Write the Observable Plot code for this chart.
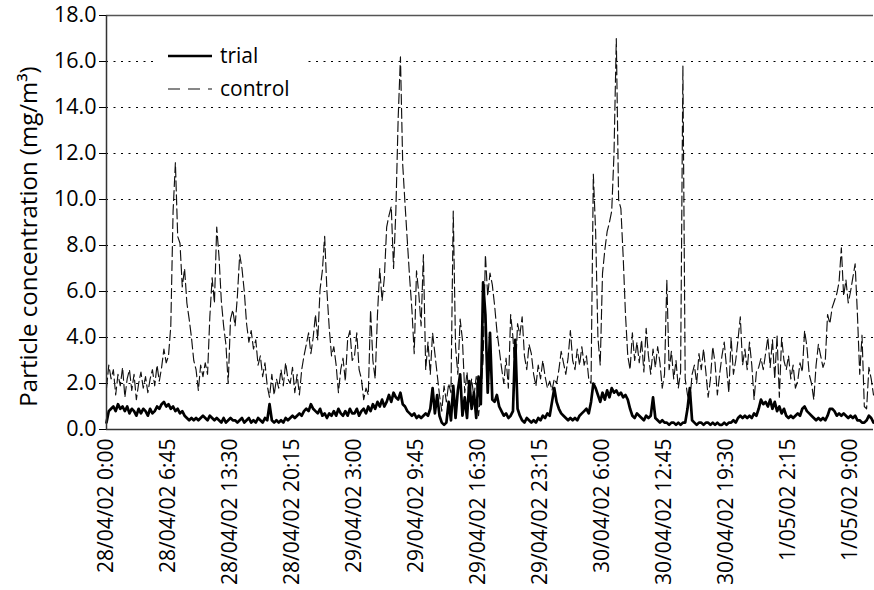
<!DOCTYPE html>
<html>
<head>
<meta charset="utf-8">
<script src="https://cdn.jsdelivr.net/npm/d3@7"></script>
<script src="https://cdn.jsdelivr.net/npm/@observablehq/plot@0.6"></script>
<style>
  html, body { margin: 0; padding: 0; background: #fff; }
  #chart { width: 874px; height: 590px; }
</style>
</head>
<body>
<div id="chart"></div>
<script>
// ---- data (15-minute readings starting 28/04/02 0:00) ----
const startTime = "2002-04-28T00:00:00Z";
const stepMinutes = 15;

const control = [
 1.8,2.8,2.2,2.6, 1.5,2.4,1.9,2.7, 1.4,2.2,2.6,1.7, 2.4,1.3,2.0,2.5,
 1.8,2.3,1.6,2.2, 2.6,1.9,2.8,2.1, 2.7,3.5,2.9,3.2, 4.5,9.5,11.6,8.4,
 8.1,6.2,7.0,5.5, 4.8,4.0,3.0,2.6, 1.7,2.8,2.3,2.9, 2.4,4.9,6.6,5.5,
 8.8,7.5,5.6,4.5, 3.7,2.0,4.8,5.2, 4.5,5.8,7.6,7.0, 6.0,4.6,3.8,4.3,
 3.5,3.9,2.8,3.2, 2.3,2.9,1.9,1.4, 2.4,1.5,2.2,1.8, 2.6,1.9,2.9,2.2,
 2.0,2.7,1.6,2.4, 1.5,2.6,3.2,3.7, 4.2,3.3,4.0,5.0, 3.9,6.1,6.9,8.4,
 6.0,4.4,3.2,3.6, 2.8,1.6,2.6,3.1, 2.1,3.9,4.3,3.0, 3.2,4.2,2.6,2.2,
 1.3,1.8,1.5,5.2, 3.0,2.2,5.0,7.0, 5.6,6.6,8.8,9.3, 9.7,7.0,9.5,13.5,
 16.2,11.5,9.8,8.2, 6.6,5.2,3.3,6.9, 5.9,4.5,7.6,2.6, 3.8,2.4,4.2,3.3,
 2.4,1.5,0.8,1.9, 1.2,2.0,1.6,9.5, 3.6,2.4,4.8,3.9, 1.6,2.5,1.2,2.2,
 1.4,2.3,0.6,1.6, 3.0,7.6,5.8,6.8, 6.3,5.4,4.3,3.5, 2.7,2.0,3.1,1.8,
 5.0,4.0,2.2,4.6, 4.1,4.9,3.2,2.6, 3.7,3.3,2.4,1.9, 2.8,2.2,3.0,2.3,
 1.8,2.1,1.7,2.2, 2.0,2.6,3.4,2.9, 2.4,3.1,4.3,3.0, 2.6,3.5,2.8,3.6,
 2.8,3.2,2.2,2.0, 11.1,8.6,4.0,2.8, 6.8,7.8,8.6,9.0, 9.5,12.0,17.0,10.0,
 9.6,7.5,5.0,3.2, 2.6,4.2,3.0,3.8, 2.9,3.9,2.5,4.4, 3.2,2.4,3.5,2.7,
 3.6,2.9,1.8,2.4, 6.5,2.6,3.4,2.2, 3.0,1.8,2.5,15.8, 2.2,1.5,1.2,2.4,
 2.8,2.0,3.3,2.6, 3.5,2.5,1.4,2.2, 3.6,2.9,1.5,2.4, 3.2,3.8,2.7,1.6,
 4.0,2.4,3.0,3.9, 4.9,2.8,3.5,2.6, 3.8,2.8,1.3,2.5, 2.7,3.1,2.6,3.3,
 4.0,2.7,3.9,2.2, 4.1,1.4,4.0,3.0, 2.6,3.2,2.2,2.8, 1.8,2.1,2.9,2.5,
 4.3,3.6,2.4,2.0, 1.3,2.8,3.7,3.2, 2.7,3.0,5.0,4.6, 5.3,5.6,5.9,6.4,
 7.9,5.8,6.5,5.5, 6.0,6.6,7.2,5.0, 2.4,4.1,1.0,0.9, 2.7,2.2,1.5
];

const trial = [
 0.3,0.8,0.9,1.0, 0.8,1.1,0.9,1.0, 0.8,1.0,0.7,0.9, 0.8,0.6,0.9,0.7,
 0.9,0.8,0.6,0.9, 0.7,0.8,1.0,0.9, 1.1,1.2,1.0,1.1, 0.9,1.0,0.8,0.9,
 0.7,0.8,0.6,0.5, 0.4,0.5,0.4,0.5, 0.4,0.5,0.6,0.5, 0.4,0.6,0.5,0.4,
 0.5,0.4,0.3,0.5, 0.3,0.4,0.5,0.4, 0.4,0.3,0.4,0.5, 0.3,0.4,0.5,0.3,
 0.4,0.3,0.5,0.4, 0.3,0.5,0.4,1.1, 0.4,0.3,0.4,0.3, 0.4,0.3,0.5,0.4,
 0.5,0.6,0.5,0.6, 0.7,0.6,0.8,0.9, 0.8,1.1,0.9,0.8, 0.7,0.9,0.6,0.7,
 0.5,0.7,0.6,0.8, 0.6,0.9,0.7,0.6, 0.8,0.6,0.9,0.7, 0.7,0.9,0.6,0.8,
 0.9,0.7,1.0,0.8, 1.1,0.9,1.2,1.0, 1.3,1.0,1.2,1.5, 1.2,1.6,1.4,1.3,
 1.6,1.1,1.0,0.8, 0.7,0.6,0.7,0.5, 0.6,0.5,0.6,0.7, 0.6,0.9,1.8,0.7,
 1.5,0.6,0.3,0.2, 0.3,1.2,0.4,1.9, 0.5,1.7,2.4,0.6, 1.4,0.5,2.1,0.9,
 1.6,0.5,2.3,1.1, 6.4,5.0,1.6,4.2, 1.3,1.2,1.5,1.0, 0.8,0.6,0.7,0.5,
 0.6,0.8,3.9,0.9, 0.6,0.4,0.3,0.5, 0.4,0.3,0.4,0.3, 0.5,0.4,0.6,0.5,
 0.7,0.6,1.2,1.8, 1.2,0.9,0.7,0.6, 0.5,0.4,0.5,0.4, 0.5,0.4,0.6,0.7,
 0.8,0.9,0.7,1.2, 2.0,1.8,1.5,1.2, 1.6,1.3,1.7,1.4, 1.8,1.6,1.7,1.5,
 1.6,1.4,1.5,1.3, 0.9,0.6,0.5,0.7, 0.6,0.5,0.4,0.6, 0.5,0.6,1.4,0.5,
 0.4,0.3,0.4,0.3, 0.3,0.2,0.3,0.3, 0.2,0.3,0.2,0.3, 0.3,0.9,1.8,0.4,
 0.3,0.2,0.3,0.3, 0.2,0.3,0.3,0.2, 0.3,0.2,0.3,0.2, 0.2,0.3,0.2,0.3,
 0.3,0.4,0.3,0.5, 0.6,0.5,0.6,0.5, 0.6,0.5,0.7,0.6, 0.9,1.3,1.1,1.2,
 1.0,1.3,0.9,1.2, 0.8,1.0,0.7,0.9, 0.6,0.5,0.6,0.5, 0.6,0.7,0.6,0.9,
 1.0,0.8,0.7,0.6, 0.5,0.4,0.5,0.4, 0.5,0.4,0.6,0.9, 0.9,0.8,0.6,0.7,
 0.6,0.7,0.6,0.5, 0.6,0.5,0.6,0.4, 0.4,0.3,0.3,0.4, 0.6,0.5,0.3
];

const tickLabels = [
 "28/04/02 0:00", "28/04/02 6:45", "28/04/02 13:30", "28/04/02 20:15",
 "29/04/02 3:00", "29/04/02 9:45", "29/04/02 16:30", "29/04/02 23:15",
 "30/04/02 6:00", "30/04/02 12:45", "30/04/02 19:30", "1/05/02 2:15",
 "1/05/02 9:00"
];
const yTicks = [0, 2, 4, 6, 8, 10, 12, 14, 16, 18];
const seriesNames = ["trial", "control"];
const yTitle = "Particle concentration (mg/m\u00b3)";

// ---- build tables ----
const t0 = new Date(startTime).getTime();
const timeAt = i => new Date(t0 + i * stepMinutes * 60000);
const controlData = control.map((v, i) => ({time: timeAt(i), value: v}));
const trialData = trial.map((v, i) => ({time: timeAt(i), value: v}));

function parseLabel(s) {
  const [dpart, tpart] = s.split(" ");
  const [dd, mm, yy] = dpart.split("/").map(Number);
  const [h, m] = tpart.split(":").map(Number);
  return new Date(Date.UTC(2000 + yy, mm - 1, dd, h, m));
}
const tickDates = tickLabels.map(parseLabel);
const labelByTime = new Map(tickDates.map((d, i) => [d.getTime(), tickLabels[i]]));

const domainX = [controlData[0].time, controlData[controlData.length - 1].time];
const FONT = "'Open Sans', sans-serif";

const chart = Plot.plot({
  width: 874,
  height: 590,
  marginLeft: 106,
  marginRight: 1,
  marginTop: 15,
  marginBottom: 161,
  style: {fontFamily: FONT, fontSize: "21px", color: "#000", background: "#fff"},
  x: {type: "utc", domain: domainX},
  y: {domain: [0, 18]},
  marks: [
    Plot.ruleY(yTicks.filter(d => d > 0 && d < 18), {stroke: "#000", strokeWidth: 1, strokeDasharray: "2,5.5"}),
    Plot.line(controlData, {x: "time", y: "value", stroke: "#111", strokeWidth: 1.15, strokeDasharray: "10,4"}),
    Plot.line(trialData, {x: "time", y: "value", stroke: "#000", strokeWidth: 2.7}),
    Plot.ruleY([18], {stroke: "#555", strokeWidth: 1.5}),
    Plot.ruleY([0], {stroke: "#333", strokeWidth: 1.5}),
    Plot.ruleX([domainX[0]], {stroke: "#333", strokeWidth: 1.5}),
    Plot.axisY({ticks: yTicks, tickFormat: d => d.toFixed(1), tickSize: 7, tickPadding: 3, label: null, fontSize: 21.5}),
    Plot.axisX({ticks: tickDates, tickFormat: d => labelByTime.get(d.getTime()), tickRotate: -90, tickSize: 0, tickPadding: 9, label: null, fontSize: 21}),
    Plot.text([yTitle], {frameAnchor: "left", rotate: -90, dx: -77, dy: 14, fontSize: 24, fill: "#000", textAnchor: "middle"})
  ]
});

document.getElementById("chart").appendChild(chart);

// ---- legend (inside plot area, top-left) ----
const svg = d3.select(chart);
const lg = svg.append("g")
  .attr("font-family", FONT).attr("font-size", 21).attr("text-anchor", "start");
lg.append("rect").attr("x", 155).attr("y", 38).attr("width", 150).attr("height", 64).attr("fill", "#fff");
lg.append("line").attr("x1", 168).attr("x2", 212).attr("y1", 56).attr("y2", 56)
  .attr("stroke", "#000").attr("stroke-width", 2.7);
lg.append("text").attr("x", 220).attr("y", 56).attr("dy", "0.35em").attr("text-anchor", "start").text(seriesNames[0]);
lg.append("line").attr("x1", 168).attr("x2", 212).attr("y1", 89).attr("y2", 89)
  .attr("stroke", "#111").attr("stroke-width", 1.15).attr("stroke-dasharray", "12,8");
lg.append("text").attr("x", 220).attr("y", 89).attr("dy", "0.35em").attr("text-anchor", "start").text(seriesNames[1]);
</script>
</body>
</html>
